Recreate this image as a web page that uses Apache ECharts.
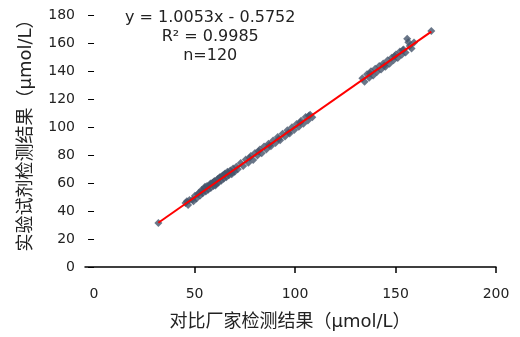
<!DOCTYPE html>
<html>
<head>
<meta charset="utf-8">
<script src="https://cdn.jsdelivr.net/npm/echarts@6/dist/echarts.min.js"></script>
<style>
  html, body { margin: 0; padding: 0; background: #fff; }
  #chart { width: 520px; height: 337px; }
</style>
</head>
<body>
<div id="chart"></div>
<script>
// Comparison data: reference method (x) vs. test reagent (y), μmol/L
const refValues = [
  32.0,
  45.5, 46.8, 47.5, 48.9, 50.2, 51.0, 52.3, 52.8, 53.5, 54.1, 54.9, 55.6, 56.2, 56.8, 57.5, 58.1,
  58.9, 59.4, 60.1, 60.8, 61.5, 62.0, 62.7, 63.3, 63.9, 64.5, 65.2, 65.8, 66.4, 67.1, 67.8, 68.5,
  69.2, 70.0, 70.8, 71.5,
  46.2, 49.5, 51.7, 55.2, 57.9, 60.4, 62.4, 64.8, 66.9, 68.9, 53.9, 59.7,
  73.0, 74.2, 75.5, 76.8, 78.0, 79.2, 80.1, 81.3, 82.5, 83.4, 84.6, 85.7, 86.8, 88.0, 89.1, 90.3,
  91.4, 92.6, 93.8, 95.0, 96.2, 97.3, 98.5, 99.6, 100.8, 101.9, 103.0, 104.2, 105.3, 106.4, 107.5, 108.6,
  77.4, 81.9, 87.3, 91.9, 96.8, 102.6, 106.9,
  133.5, 134.6, 135.8, 136.9, 137.8, 138.9, 139.9, 140.8, 141.9, 142.8, 143.9, 145.0, 146.1, 147.0,
  148.1, 149.0, 150.2, 151.1, 152.2, 153.1, 154.0, 155.0, 155.8, 156.4, 157.1, 158.0, 159.2,
  137.3, 144.4, 149.6, 153.6,
  167.8
];
const testValues = [
  31.5,
  45.8, 44.2, 47.9, 48.0, 50.9, 49.0, 53.1, 51.0, 55.0, 52.6, 56.3, 54.0, 57.9, 55.1, 58.4, 56.5,
  60.2, 57.8, 61.5, 59.2, 62.9, 60.3, 64.2, 61.6, 65.4, 63.0, 66.8, 64.1, 68.0, 65.6, 68.9, 66.2,
  70.4, 68.1, 71.6, 69.8,
  47.0, 46.9, 52.2, 57.4, 59.6, 58.3, 63.8, 66.0, 67.4, 67.7, 54.2, 61.0,
  74.2, 72.1, 76.8, 74.5, 79.3, 76.4, 81.4, 79.6, 83.9, 81.2, 86.1, 84.0, 88.0, 86.2, 90.4, 88.5,
  92.8, 90.6, 95.1, 93.2, 97.6, 95.4, 99.9, 97.8, 102.2, 100.1, 104.5, 102.4, 107.1, 104.6, 108.8, 106.9,
  78.0, 82.6, 86.9, 91.4, 96.0, 103.3, 108.0,
  134.8, 132.4, 137.6, 135.1, 139.8, 136.7, 141.6, 139.2, 143.5, 141.0, 145.4, 143.1, 147.6, 145.2,
  149.5, 147.6, 151.8, 149.3, 153.9, 151.6, 155.4, 153.2, 163.0, 160.5, 157.9, 156.0, 160.4,
  138.3, 144.0, 150.7, 154.8,
  168.5
];

// Linear fit reported with the data
const fitSlope = 1.0053;
const fitIntercept = -0.5752;
const fitR2 = '0.9985';
const sampleCount = 120;

const xTickValues = [0, 50, 100, 150, 200];
const yTickValues = [0, 20, 40, 60, 80, 100, 120, 140, 160, 180];

const xTitle = '对比厂家检测结果（μmol/L）';
const yTitle = '实验试剂检测结果（μmol/L）';

const points = refValues.map((x, i) => [x, testValues[i]]);
const xMin = Math.min(...refValues);
const xMax = Math.max(...refValues);
const trend = [xMin, xMax].map(x => [x, fitSlope * x + fitIntercept]);

const textFont = "'DejaVu Sans', 'Noto Sans CJK SC', sans-serif";
const labelStyle = { color: '#222', fontSize: 14, fontFamily: textFont };

const chart = echarts.init(document.getElementById('chart'), null, { renderer: 'canvas' });
chart.setOption({
  animation: false,
  backgroundColor: '#fff',
  grid: { left: 85, right: 24, top: 15, bottom: 70, containLabel: false },
  xAxis: {
    type: 'value',
    min: -4.5,
    max: 200,
    splitLine: { show: false },
    axisLine: { show: true, onZero: false, lineStyle: { color: '#000', width: 1.5 } },
    axisTick: { show: true, length: 6, customValues: xTickValues.slice(1), lineStyle: { color: '#000', width: 1.5 } },
    axisLabel: Object.assign({ margin: 20, customValues: xTickValues }, labelStyle)
  },
  yAxis: {
    type: 'value',
    min: 0,
    max: 180,
    interval: 20,
    splitLine: { show: false },
    // axis line itself is invisible; only the outward ticks show
    axisLine: { show: true, onZero: true, lineStyle: { color: 'rgba(0,0,0,0)', width: 1 } },
    axisTick: { show: true, length: 6, lineStyle: { color: '#000', width: 1 } },
    axisLabel: Object.assign({ margin: 10, customValues: yTickValues }, labelStyle)
  },
  series: [
    {
      type: 'scatter',
      data: points,
      symbol: 'diamond',
      symbolSize: 8,
      itemStyle: { color: '#44546A' },
      z: 2
    },
    {
      type: 'line',
      data: trend,
      symbol: 'none',
      lineStyle: { color: '#FF0000', width: 2 },
      z: 3
    }
  ],
  graphic: [
    // axis titles
    {
      type: 'text', x: 290, y: 322,
      style: { text: xTitle, align: 'center', verticalAlign: 'middle', fill: '#222', font: '18px ' + textFont }
    },
    {
      type: 'text', x: 26, y: 131, rotation: Math.PI / 2,
      style: { text: yTitle, align: 'center', verticalAlign: 'middle', fill: '#222', font: '18px ' + textFont }
    },
    // regression equation block in the upper-left of the plot
    {
      type: 'group', left: 125, top: 10,
      children: [
        { type: 'text', style: { text: 'y = ' + fitSlope.toFixed(4) + 'x - ' + Math.abs(fitIntercept).toFixed(4), x: 90, y: 0, align: 'center', fill: '#222', font: '16px ' + textFont } },
        { type: 'text', style: { text: 'R² = ' + fitR2, x: 90, y: 19, align: 'center', fill: '#222', font: '16px ' + textFont } },
        { type: 'text', style: { text: 'n=' + sampleCount, x: 90, y: 38, align: 'center', fill: '#222', font: '16px ' + textFont } }
      ]
    }
  ]
});
</script>
</body>
</html>
